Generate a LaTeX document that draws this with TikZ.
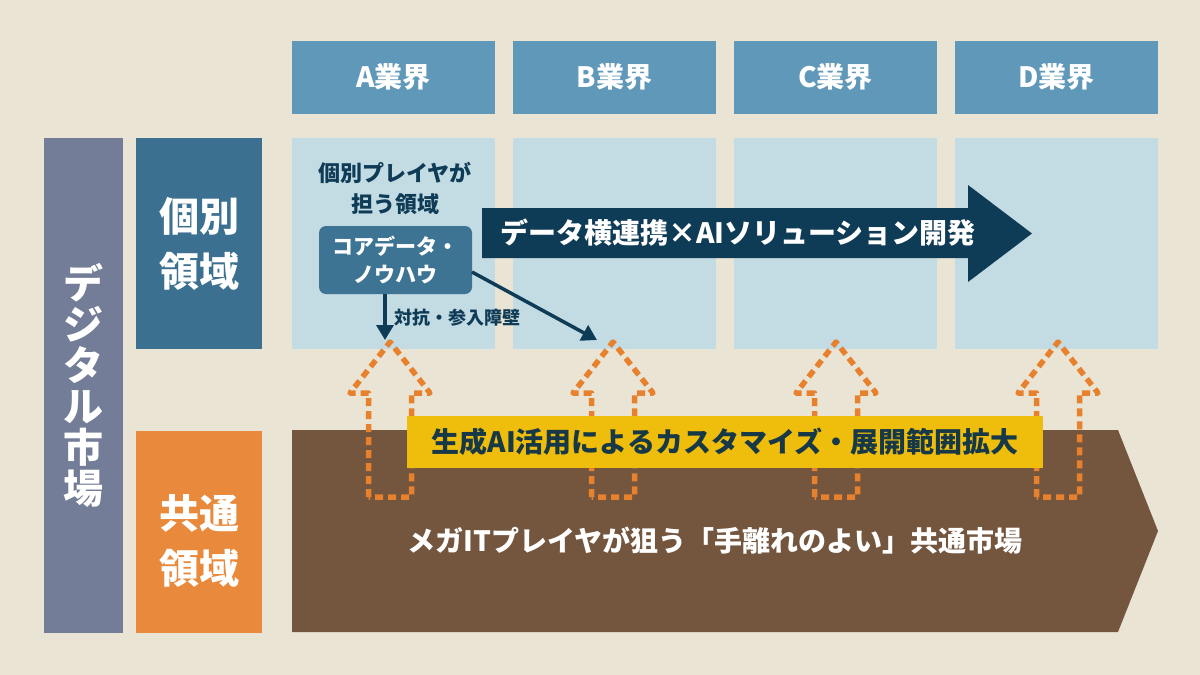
\documentclass[tikz,border=0pt]{standalone}
\usepackage{fontspec}
\setmainfont{Noto Sans CJK JP}
\usetikzlibrary{arrows.meta}
\definecolor{bg}{HTML}{EAE4D4}
\definecolor{hdrblue}{HTML}{5F98B8}
\definecolor{lightblue}{HTML}{C3DBE3}
\definecolor{navy}{HTML}{0E3B56}
\definecolor{midblue}{HTML}{3B7090}
\definecolor{coreblue}{HTML}{3D7393}
\definecolor{grayblue}{HTML}{737D97}
\definecolor{orangebox}{HTML}{E8893B}
\definecolor{brown}{HTML}{74563F}
\definecolor{yellowband}{HTML}{EFBD0B}
\definecolor{dashorange}{HTML}{E8812E}
\definecolor{bandtext}{HTML}{163847}
\tikzset{
  plain/.style={inner sep=0pt, outer sep=0pt, anchor=center},
  hdr/.style={plain, fill=hdrblue, minimum width=203pt, minimum height=73pt, text=white, font=\fontsize{28}{34}\selectfont\bfseries},
  colbox/.style={plain, fill=lightblue, minimum width=203pt, minimum height=211pt},
  sidebox/.style={plain, minimum width=126pt, text=white, align=center, font=\fontsize{40}{55}\selectfont\bfseries},
  dasharrow/.style={draw=dashorange, line width=5.5pt, dash pattern=on 8pt off 5pt, line join=round},
  navyarrow/.style={draw=navy, line width=3.5pt, -{Triangle[width=17pt,length=15pt]}},
  darktext/.style={plain, text=navy, align=center}
}
\begin{document}
\begin{tikzpicture}[x=1pt,y=-1pt]
\fill[bg] (0,0) rectangle (1200,675);
\useasboundingbox (0,0) rectangle (1200,675);
% headers
\node[hdr] (ha) at (393.5,77) {A業界};
\node[hdr] (hb) at (614.5,77) {B業界};
\node[hdr] (hc) at (835.5,77) {C業界};
\node[hdr] (hd) at (1056.5,77) {D業界};
% columns
\node[colbox] (ca) at (393.5,243) {};
\node[colbox] (cb) at (614.5,243) {};
\node[colbox] (cc) at (835.5,243) {};
\node[colbox] (cd) at (1056.5,243) {};
% left bars
\node[plain, fill=grayblue, minimum width=79pt, minimum height=495pt, text=white, align=center,
  font=\fontsize{40}{41}\selectfont\bfseries] (market) at (83.5,385.5) {デ\\ジ\\タ\\ル\\市\\場};
\node[sidebox, fill=midblue, minimum height=211pt] (indiv) at (199,243.5) {個別\\領域};
\node[sidebox, fill=orangebox, minimum height=202pt] (common) at (199,532) {};
\node[plain, text=white, align=center, font=\fontsize{40}{55}\selectfont\bfseries] (commontext) at (199,541) {共通\\領域};
% brown pentagon
\fill[brown] (292,430) -- (1118,430) -- (1158,531) -- (1118,632) -- (292,632) -- cycle;
\node[plain, text=white, font=\fontsize{28}{34}\selectfont\bfseries] (megatext) at (715,541) {メガITプレイヤが狙う「手離れのよい」共通市場};
% dashed arrows
\foreach \cx in {390,613,836,1058}{
  \draw[dasharrow] (\cx-21.5,497) -- (\cx-21.5,393) -- (\cx-40,393) -- (\cx,342) -- (\cx+40,393) -- (\cx+21.5,393) -- (\cx+21.5,497) -- cycle;
}
% yellow band
\node[plain, fill=yellowband, minimum width=636pt, minimum height=52pt, text=bandtext,
  font=\fontsize{28}{34}\selectfont\bfseries] (band) at (725,442) {生成AI活用によるカスタマイズ・展開範囲拡大};
% navy big arrow
\fill[navy] (482,208) -- (968,208) -- (968,185) -- (1032,233.5) -- (968,282) -- (968,258) -- (482,258) -- cycle;
\node[plain, text=white, font=\fontsize{28}{34}\selectfont\bfseries] (dataarrow) at (738,233) {データ横連携×AIソリューション開発};
% individual player text
\node[darktext, font=\fontsize{22}{31}\selectfont\bfseries] (playertext) at (395,188) {個別プレイヤが\\担う領域};
% core box
\node[plain, fill=coreblue, rounded corners=7pt, minimum width=153pt, minimum height=68pt, text=white, align=center,
  font=\fontsize{21}{28}\selectfont\bfseries] (core) at (395.5,260) {コアデータ・\\ノウハウ};
\coordinate (downend) at (385,340);
\coordinate (diagend) at (597,340);
\draw[navyarrow] (core.south -| downend) -- (downend);
\draw[navyarrow] ([yshift=-12pt]core.east) -- (diagend);
\node[darktext, anchor=west, font=\fontsize{18}{22}\selectfont\bfseries] (barrier) at (394,318) {対抗・参入障壁};
\end{tikzpicture}
\end{document}
